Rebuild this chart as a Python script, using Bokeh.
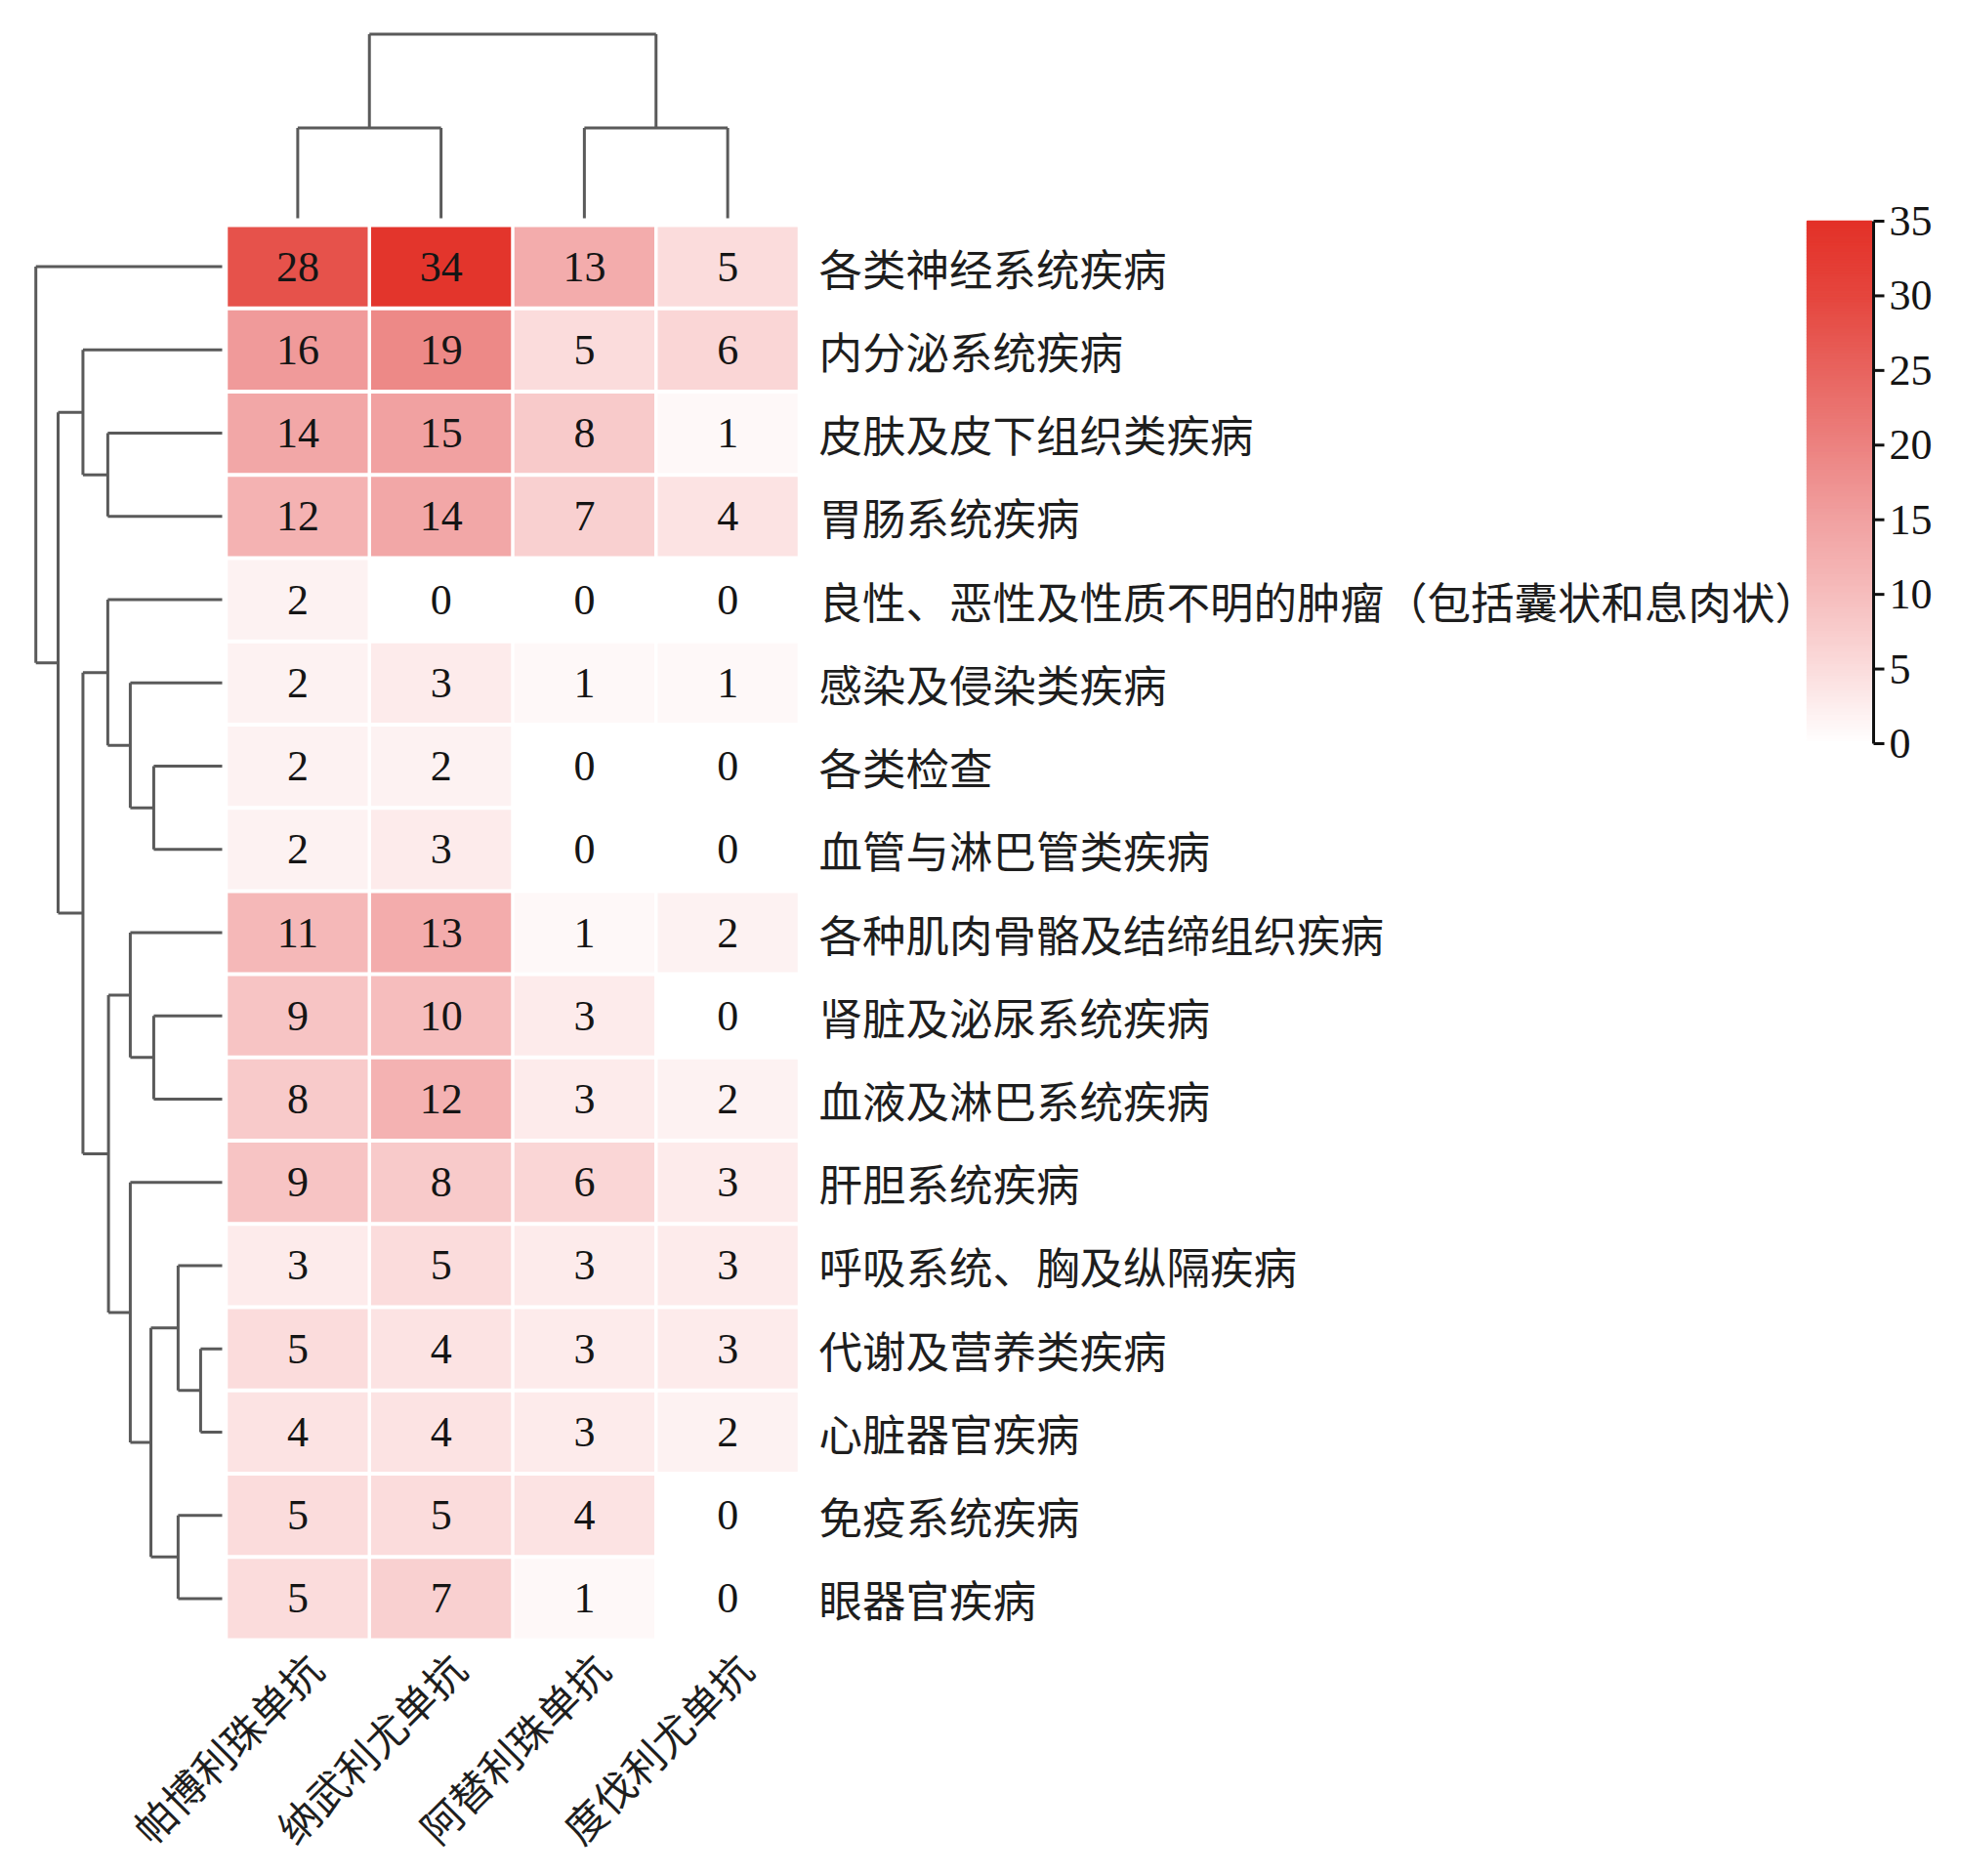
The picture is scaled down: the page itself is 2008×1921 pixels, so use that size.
import numpy as np
from bokeh.plotting import figure
from bokeh.models import ColumnDataSource, Range1d
from bokeh.transform import linear_cmap
from bokeh.core.properties import value
from bokeh.embed import file_html
from bokeh.resources import INLINE

# ---------------- data ----------------
drugs = ["帕博利珠单抗", "纳武利尤单抗", "阿替利珠单抗", "度伐利尤单抗"]
diseases = [
    "各类神经系统疾病",
    "内分泌系统疾病",
    "皮肤及皮下组织类疾病",
    "胃肠系统疾病",
    "良性、恶性及性质不明的肿瘤（包括囊状和息肉状）",
    "感染及侵染类疾病",
    "各类检查",
    "血管与淋巴管类疾病",
    "各种肌肉骨骼及结缔组织疾病",
    "肾脏及泌尿系统疾病",
    "血液及淋巴系统疾病",
    "肝胆系统疾病",
    "呼吸系统、胸及纵隔疾病",
    "代谢及营养类疾病",
    "心脏器官疾病",
    "免疫系统疾病",
    "眼器官疾病",
]
pembrolizumab = [28, 16, 14, 12, 2, 2, 2, 2, 11, 9, 8, 9, 3, 5, 4, 5, 5]
nivolumab     = [34, 19, 15, 14, 0, 3, 2, 3, 13, 10, 12, 8, 5, 4, 4, 5, 7]
atezolizumab  = [13, 5, 8, 7, 0, 1, 0, 0, 1, 3, 3, 6, 3, 3, 3, 4, 1]
durvalumab    = [5, 6, 1, 4, 0, 1, 0, 0, 2, 0, 2, 3, 3, 3, 2, 0, 0]
series = [pembrolizumab, nivolumab, atezolizumab, durvalumab]

cbar_ticks = [0, 5, 10, 15, 20, 25, 30, 35]
cbar_low, cbar_high = 0, 35

# hierarchical clustering (node, child a, child b, linkage height); ints are leaves
row_links = [
    ("B2", 2, 3, 4.88),
    ("B", 1, "B2", 5.94),
    ("D3", 6, 7, 2.92),
    ("D2", 5, "D3", 3.92),
    ("D", 4, "D2", 4.88),
    ("E1b", 9, 10, 2.92),
    ("E1", 8, "E1b", 3.92),
    ("E4b", 13, 14, 0.92),
    ("E4", 12, "E4b", 1.88),
    ("E5", 15, 16, 1.88),
    ("E3", "E4", "E5", 3.04),
    ("E2", 11, "E3", 3.92),
    ("E", "E1", "E2", 4.85),
    ("C", "D", "E", 5.94),
    ("A", "B", "C", 7.0),
    ("root", 0, "A", 7.95),
]
col_links = [
    ("L", 0, 1, 3.85),
    ("R", 2, 3, 3.85),
    ("root", "L", "R", 7.85),
]

# ---------------- layout (page pixels) ----------------
W, H = 1992, 1905
OFF = 8
HM_LEFT, HM_RIGHT, HM_TOP, HM_BOTTOM = 239, 826, 238, 1687
NC, NR = len(drugs), len(diseases)
col_px = (HM_RIGHT - HM_LEFT) / NC
row_px = (HM_BOTTOM - HM_TOP) / NR
DENDRO_PX = 24.0
LEFT_GAP, TOP_GAP = 4, 7

x0 = (OFF - HM_LEFT) / col_px
x1 = (OFF + W - HM_LEFT) / col_px
y0 = (HM_BOTTOM - (OFF + H)) / row_px
y1 = (HM_BOTTOM - OFF) / row_px

CB_TOP_PX, CB_BOT_PX = 234, 769
cb_per_px = (cbar_high - cbar_low) / (CB_BOT_PX - CB_TOP_PX)
cb_start = cbar_low - ((OFF + H) - CB_BOT_PX) * cb_per_px
cb_end = cbar_low + (CB_BOT_PX - OFF) * cb_per_px

def px_to_x(px):
    return (px - HM_LEFT) / col_px

p = figure(width=W, height=H, x_range=Range1d(x0, x1), y_range=Range1d(y0, y1),
           output_backend="svg", toolbar_location=None,
           x_axis_location=None, y_axis_location=None, min_border=0)
p.extra_y_ranges = {"cbar": Range1d(cb_start, cb_end)}
p.grid.visible = False
p.outline_line_color = None
p.background_fill_color = "white"
p.border_fill_color = "white"

# colour map white -> red
anchors = [(0, "#ffffff"), (5, "#fbdcdc"), (10, "#f6bdbd"), (15, "#f1a1a1"),
           (20, "#ec8280"), (25, "#e8645f"), (30, "#e5463e"), (35, "#e33128")]
def hex2rgb(h):
    return np.array([int(h[i:i + 2], 16) for i in (1, 3, 5)], dtype=float)
av = np.array([a[0] for a in anchors], dtype=float)
ac = np.array([hex2rgb(a[1]) for a in anchors])
palette = []
for t in np.linspace(cbar_low, cbar_high, 256):
    rgb = [np.interp(t, av, ac[:, k]) for k in range(3)]
    palette.append("#%02x%02x%02x" % tuple(int(round(c)) for c in rgb))

# ---------------- heatmap ----------------
xs, ys, vs, labels = [], [], [], []
for ci, col in enumerate(series):
    for ri, v in enumerate(col):
        xs.append(ci + 0.5)
        ys.append(NR - ri - 0.5)
        vs.append(v)
        labels.append(str(v))
src = ColumnDataSource(dict(x=xs, y=ys, v=vs, t=labels))
p.rect("x", "y", width=1 - 3.5 / col_px, height=1 - 4 / row_px, source=src,
       fill_color=linear_cmap("v", palette, cbar_low, cbar_high), line_color=None)
p.text("x", "y", text="t", source=src, text_align="center", text_baseline="middle",
       text_font=value("Liberation Serif"), text_font_size="44px", text_color="#151515")

# row labels
p.text(x=[px_to_x(HM_RIGHT + 20)] * NR, y=[NR - i - 0.5 for i in range(NR)], text=diseases,
       text_align="left", text_baseline="middle",
       text_font=value("Noto Sans CJK SC"), text_font_size="44.5px", text_color="#1e1e1e")

# column labels (rotated)
p.text(x=[i + 0.5 + 0.11 for i in range(NC)], y=[-0.24] * NC, text=drugs, angle=np.pi / 4,
       text_align="right", text_baseline="middle",
       text_font=value("Noto Sans CJK SC"), text_font_size="42px", text_color="#1e1e1e")

# ---------------- dendrograms ----------------
def dendro(links, leaf_pos):
    pos = {i: v for i, v in enumerate(leaf_pos)}
    hgt = {i: 0.0 for i in range(len(leaf_pos))}
    segs = []
    for name, a, b, h in links:
        pos[name] = (pos[a] + pos[b]) / 2
        hgt[name] = h
        for c in (a, b):
            segs.append((pos[c], hgt[c], pos[c], h))
        segs.append((pos[a], h, pos[b], h))
    return segs

lsegs = dendro(row_links, [NR - i - 0.5 for i in range(NR)])
hx = lambda h: -(LEFT_GAP + h * DENDRO_PX) / col_px
p.segment(x0=[hx(s[1]) for s in lsegs], y0=[s[0] for s in lsegs],
          x1=[hx(s[3]) for s in lsegs], y1=[s[2] for s in lsegs],
          line_color="#5a5a5a", line_width=3)

tsegs = dendro(col_links, [i + 0.5 for i in range(NC)])
hy = lambda h: NR + (TOP_GAP + h * DENDRO_PX) / row_px
p.segment(x0=[s[0] for s in tsegs], y0=[hy(s[1]) for s in tsegs],
          x1=[s[2] for s in tsegs], y1=[hy(s[3]) for s in tsegs],
          line_color="#5a5a5a", line_width=3)

# ---------------- colour bar ----------------
CB_L, CB_R = px_to_x(1858), px_to_x(1924)
AX = px_to_x(1926)
TK = px_to_x(1937)
edges = np.linspace(cbar_low, cbar_high, 176)
cmap_cb = linear_cmap("v", palette, cbar_low, cbar_high)
cb_src = ColumnDataSource(dict(b=edges[:-1], t=edges[1:], v=(edges[:-1] + edges[1:]) / 2))
p.quad(left=CB_L, right=CB_R, bottom="b", top="t", source=cb_src, y_range_name="cbar",
       fill_color=cmap_cb, line_color=cmap_cb, line_width=1.5)
p.segment(x0=[AX], y0=[cbar_low], x1=[AX], y1=[cbar_high], y_range_name="cbar",
          line_color="#111111", line_width=3)
p.segment(x0=[AX] * len(cbar_ticks), y0=cbar_ticks, x1=[TK] * len(cbar_ticks), y1=cbar_ticks,
          y_range_name="cbar", line_color="#111111", line_width=3)
p.text(x=[px_to_x(1942)] * len(cbar_ticks), y=cbar_ticks, text=[str(t) for t in cbar_ticks],
       y_range_name="cbar", text_align="left", text_baseline="middle",
       text_font=value("Liberation Serif"), text_font_size="44px", text_color="#151515")

open("out.html", "w").write(file_html(p, INLINE))
